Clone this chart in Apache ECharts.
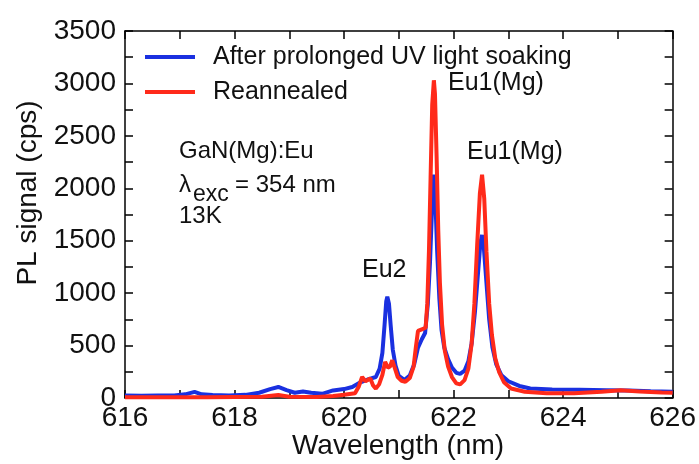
<!DOCTYPE html>
<html>
<head>
<meta charset="utf-8">
<script src="https://cdn.jsdelivr.net/npm/echarts@6/dist/echarts.min.js"></script>
<style>html,body{margin:0;padding:0;background:#fff}#c{width:699px;height:464px}</style>
</head>
<body>
<div id="c"></div>
<script>
// Data
var blueName = 'After prolonged UV light soaking';
var redName = 'Reannealed';
var blueWl = [616.0,616.3,616.6,616.9,617.1,617.27,617.4,617.6,617.9,618.2,618.45,618.65,618.8,618.95,619.1,619.25,619.4,619.6,619.8,620.0,620.15,620.3,620.45,620.58,620.65,620.7,620.74,620.77,620.79,620.82,620.85,620.89,620.94,621.0,621.1,621.2,621.28,621.35,621.42,621.48,621.53,621.57,621.61,621.64,621.67,621.7,621.74,621.78,621.83,621.9,621.97,622.05,622.12,622.2,622.27,622.33,622.39,622.44,622.49,622.52,622.55,622.6,622.65,622.71,622.78,622.87,623.0,623.2,623.4,623.8,624.3,624.8,625.2,625.6,626.0];
var blueVal = [25,22,24,25,35,58,35,28,25,30,50,85,105,75,50,62,50,40,72,85,105,150,180,200,280,430,700,920,965,900,700,460,310,210,172,215,320,480,560,620,900,1300,1850,2130,1850,1400,950,650,480,370,290,240,230,260,350,520,820,1150,1480,1555,1450,1100,750,480,320,220,160,115,90,80,78,75,72,65,60];
var redWl = [616.0,616.5,617.0,617.5,618.0,618.5,618.8,619.0,619.5,619.8,620.0,620.2,620.27,620.33,620.39,620.44,620.48,620.53,620.58,620.64,620.7,620.75,620.8,620.84,620.88,620.93,620.98,621.05,621.12,621.2,621.27,621.31,621.35,621.42,621.49,621.52,621.55,621.58,621.61,621.64,621.66,621.69,621.72,621.75,621.79,621.84,621.9,621.97,622.05,622.12,622.2,622.27,622.33,622.38,622.43,622.48,622.52,622.56,622.6,622.65,622.7,622.76,622.83,622.92,623.05,623.3,623.7,624.2,624.7,625.05,625.4,625.8,626.0];
var redVal = [8,8,8,8,10,12,28,12,10,20,30,45,110,200,160,175,185,120,90,130,220,345,290,300,360,280,200,165,155,190,300,480,640,655,670,900,1400,2100,2800,3030,2900,2300,1600,1100,700,450,300,200,140,130,170,280,520,900,1450,1950,2130,1900,1400,900,600,380,250,150,90,60,45,45,60,75,62,52,50];
var xTickLabels = [616, 618, 620, 622, 624, 626];
var yTickLabels = [0, 500, 1000, 1500, 2000, 2500, 3000, 3500];

function pairs(xs, ys){ var out=[]; for(var i=0;i<xs.length;i++) out.push([xs[i], ys[i]]); return out; }

var FF = '"Liberation Sans", Arial, Helvetica, sans-serif';
var TXT = '#111';
var chart = echarts.init(document.getElementById('c'), null, {renderer:'canvas'});

function xAx(pos, showLabel){
  return {
    type:'value', position:pos, min:xTickLabels[0], max:xTickLabels[xTickLabels.length-1], interval:(xTickLabels[1]-xTickLabels[0])/2,
    axisLine:{show:true, onZero:false, lineStyle:{color:'#000', width:1.5}},
    axisTick:{show:true, inside:true, length:8, lineStyle:{color:'#000', width:1.5}},
    splitLine:{show:false},
    axisLabel:{show:showLabel, fontSize:28, color:TXT, fontFamily:FF, margin:6,
      formatter:function(v){ return xTickLabels.indexOf(Math.round(v))>=0 && Math.abs(v-Math.round(v))<1e-6 ? String(Math.round(v)) : ''; }}
  };
}
function yAx(pos, showLabel){
  return {
    type:'value', position:pos, min:yTickLabels[0], max:yTickLabels[yTickLabels.length-1], interval:(yTickLabels[1]-yTickLabels[0])/2,
    axisLine:{show:true, onZero:false, lineStyle:{color:'#000', width:1.5}},
    axisTick:{show:true, inside:true, length:8, lineStyle:{color:'#000', width:1.5}},
    splitLine:{show:false},
    axisLabel:{show:showLabel, fontSize:28, color:TXT, fontFamily:FF, margin:9,
      formatter:function(v){ return yTickLabels.indexOf(Math.round(v))>=0 ? String(Math.round(v)) : ''; }}
  };
}

chart.setOption({
  animation:false,
  backgroundColor:'#fff',
  grid:{left:125, right:24, top:31, bottom:66, containLabel:false},
  xAxis:[xAx('bottom', true), xAx('top', false)],
  yAxis:[yAx('left', true), yAx('right', false)],
  legend:{
    orient:'vertical', left:140, top:37, itemWidth:50, itemHeight:4, itemGap:5, icon:'rect',
    textStyle:{fontSize:25, color:TXT, fontFamily:FF, lineHeight:30, padding:[0,0,0,13]},
    data:[blueName, redName]
  },
  series:[
    {name:blueName, type:'line', xAxisIndex:0, yAxisIndex:0, data:pairs(blueWl, blueVal), showSymbol:false, symbol:'none',
     lineStyle:{color:'#1a30e0', width:4}, itemStyle:{color:'#1a30e0'}, z:2},
    {name:redName, type:'line', xAxisIndex:0, yAxisIndex:0, data:pairs(redWl, redVal), showSymbol:false, symbol:'none',
     lineStyle:{color:'#ff2a1a', width:4}, itemStyle:{color:'#ff2a1a'}, z:3}
  ],
  graphic:[
    {type:'text', x:28, y:193, rotation:Math.PI/2, style:{text:'PL signal (cps)', font:'28px '+FF, fill:TXT, align:'center', verticalAlign:'middle'}},
    {type:'text', x:398, y:446, style:{text:'Wavelength (nm)', font:'28px '+FF, fill:TXT, align:'center', verticalAlign:'middle'}},
    {type:'text', x:448, y:83, style:{text:'Eu1(Mg)', font:'25px '+FF, fill:TXT, align:'left', verticalAlign:'middle'}},
    {type:'text', x:467, y:152, style:{text:'Eu1(Mg)', font:'25px '+FF, fill:TXT, align:'left', verticalAlign:'middle'}},
    {type:'text', x:362, y:270, style:{text:'Eu2', font:'25px '+FF, fill:TXT, align:'left', verticalAlign:'middle'}},
    {type:'text', x:179, y:151, style:{text:'GaN(Mg):Eu', font:'24px '+FF, fill:TXT, align:'left', verticalAlign:'middle'}},
    {type:'text', x:179, y:185, style:{text:'\u03bb', font:'24px '+FF, fill:TXT, align:'left', verticalAlign:'middle'}},
    {type:'text', x:193, y:195, style:{text:'exc', font:'23px '+FF, fill:TXT, align:'left', verticalAlign:'middle'}},
    {type:'text', x:235, y:185, style:{text:'= 354 nm', font:'24px '+FF, fill:TXT, align:'left', verticalAlign:'middle'}},
    {type:'text', x:179, y:216, style:{text:'13K', font:'24px '+FF, fill:TXT, align:'left', verticalAlign:'middle'}}
  ]
});
</script>
</body>
</html>
